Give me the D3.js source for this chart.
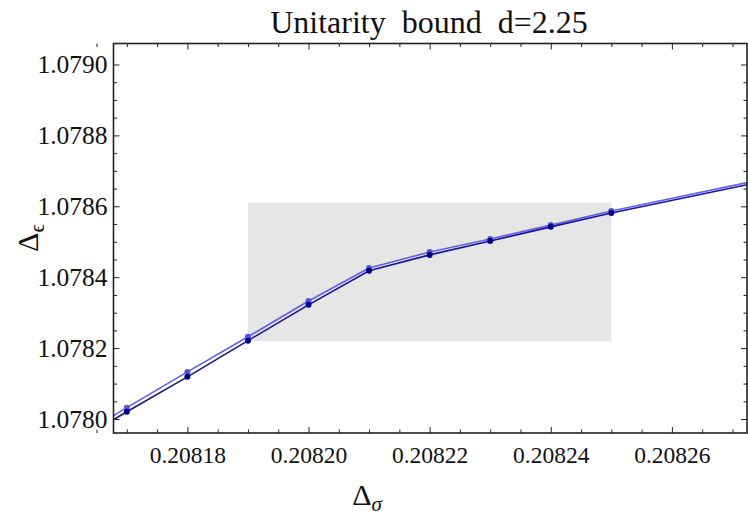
<!DOCTYPE html>
<html>
<head>
<meta charset="utf-8">
<script src="https://cdn.jsdelivr.net/npm/d3@7"></script>
<style>
  html, body { margin: 0; padding: 0; background: #fff; }
  svg { display: block; }
  text { font-family: "Liberation Serif", "DejaVu Serif", serif; fill: #111; }
</style>
</head>
<body>
<svg id="chart" width="748" height="516"></svg>
<script>
// Δσ values where the bound was computed (marked points)
const sigma = [0.20817, 0.20818, 0.20819, 0.20820, 0.20821, 0.20822, 0.20823, 0.20824, 0.20825];
// Δε bound, two runs
const epsLower = [1.0780205, 1.078119, 1.078221, 1.078322, 1.078418, 1.078463, 1.078502, 1.078542, 1.078581];
const epsUpper = [1.078032, 1.078133, 1.078232, 1.078333, 1.078426, 1.078471, 1.078508, 1.078547, 1.078587];
// line continuation past the marked range
const sigmaTail = [0.20816, 0.20828];
const epsLowerTail = [1.077919, 1.078688];
const epsUpperTail = [1.077930, 1.078694];
// shaded allowed region [σmin, σmax] × [εmin, εmax]
const regionSigma = [0.20819, 0.20825];
const regionEps = [1.07822, 1.07861];
// ticks
const xMajor = [0.20818, 0.20820, 0.20822, 0.20824, 0.20826];
const xMinor = [0.208165, 0.20817, 0.208175, 0.208185, 0.20819, 0.208195, 0.208205, 0.20821, 0.208215,
                0.208225, 0.20823, 0.208235, 0.208245, 0.20825, 0.208255, 0.208265, 0.20827];
const yMajor = [1.0780, 1.0782, 1.0784, 1.0786, 1.0788, 1.0790];
const yMinor = [1.07800 + 0.00005, 1.07800 + 0.00010, 1.07800 + 0.00015,
                1.07820 + 0.00005, 1.07820 + 0.00010, 1.07820 + 0.00015,
                1.07840 + 0.00005, 1.07840 + 0.00010, 1.07840 + 0.00015,
                1.07860 + 0.00005, 1.07860 + 0.00010, 1.07860 + 0.00015,
                1.07880 + 0.00005, 1.07880 + 0.00010, 1.07880 + 0.00015];

const svg = d3.select("#chart");
const L = 113.5, R = 747, T = 43.5, B = 433;
const x = d3.scaleLinear().domain([0.2081678, 0.2082724]).range([L, R]);
const y = d3.scaleLinear().domain([1.0779606, 1.0790592]).range([B, T]);

svg.append("defs").append("clipPath").attr("id", "plotclip")
  .append("rect").attr("x", L).attr("y", T).attr("width", R - L).attr("height", B - T);

const plot = svg.append("g").attr("clip-path", "url(#plotclip)");

// shaded region
plot.append("rect")
  .attr("x", x(regionSigma[0])).attr("y", y(regionEps[1]))
  .attr("width", x(regionSigma[1]) - x(regionSigma[0]))
  .attr("height", y(regionEps[0]) - y(regionEps[1]))
  .attr("fill", "#e6e6e6");

const line = d3.line().x(d => x(d[0])).y(d => y(d[1]));
function series(vals, tail) {
  const pts = sigma.map((s, i) => [s, vals[i]]);
  return [[sigmaTail[0], tail[0]], ...pts, [sigmaTail[1], tail[1]]];
}

const styles = [
  { vals: epsUpper, tail: epsUpperTail, stroke: "#5e5eff", fill: "#5050f0" },
  { vals: epsLower, tail: epsLowerTail, stroke: "#18187f", fill: "#000078" }
];
styles.forEach(s => {
  plot.append("path").datum(series(s.vals, s.tail))
    .attr("d", line).attr("fill", "none")
    .attr("stroke", s.stroke).attr("stroke-width", 1.6);
});
styles.forEach(s => {
  plot.selectAll(null).data(sigma.map((v, i) => [v, s.vals[i]])).enter()
    .append("circle")
    .attr("cx", d => x(d[0])).attr("cy", d => y(d[1])).attr("r", 3)
    .attr("fill", s.fill);
});

// frame axes with inward ticks
function styleAxis(size) {
  return g => {
    g.select(".domain").remove();
    g.selectAll(".tick line").attr("stroke", "#222").attr("stroke-width", 1);
    g.selectAll(".tick text").style("font-size", size + "px").attr("fill", "#111");
  };
}
const fmtX = d3.format(".5f"), fmtY = d3.format(".4f");

svg.append("g").attr("transform", `translate(0,${B})`)
  .call(d3.axisBottom(x).tickValues(xMajor).tickFormat(fmtX).tickSize(-6).tickPadding(13)).call(styleAxis(23.5));
svg.append("g").attr("transform", `translate(0,${B})`)
  .call(d3.axisBottom(x).tickValues(xMinor).tickFormat("").tickSize(-3.5)).call(styleAxis(23.5));
svg.append("g").attr("transform", `translate(0,${T})`)
  .call(d3.axisTop(x).tickValues(xMajor).tickFormat("").tickSize(-6)).call(styleAxis(23.5));
svg.append("g").attr("transform", `translate(0,${T})`)
  .call(d3.axisTop(x).tickValues(xMinor).tickFormat("").tickSize(-3.5)).call(styleAxis(23.5));

svg.append("g").attr("transform", `translate(${L},0)`)
  .call(d3.axisLeft(y).tickValues(yMajor).tickFormat(fmtY).tickSize(-6).tickPadding(6)).call(styleAxis(25.5));
svg.append("g").attr("transform", `translate(${L},0)`)
  .call(d3.axisLeft(y).tickValues(yMinor).tickFormat("").tickSize(-3.5)).call(styleAxis(25.5));
svg.append("g").attr("transform", `translate(${R},0)`)
  .call(d3.axisRight(y).tickValues(yMajor).tickFormat("").tickSize(-6)).call(styleAxis(25.5));
svg.append("g").attr("transform", `translate(${R},0)`)
  .call(d3.axisRight(y).tickValues(yMinor).tickFormat("").tickSize(-3.5)).call(styleAxis(25.5));

svg.append("rect").attr("x", L).attr("y", T).attr("width", R - L).attr("height", B - T)
  .attr("fill", "none").attr("stroke", "#222").attr("stroke-width", 1.6);

// title and axis labels
svg.append("text").attr("x", 429).attr("y", 33).attr("text-anchor", "middle")
  .style("font-size", "32px").style("word-spacing", "8px").text("Unitarity bound d=2.25");

const xl = svg.append("text").attr("x", 367).attr("y", 505).attr("text-anchor", "middle")
  .style("font-size", "30px");
xl.append("tspan").text("Δ");
xl.append("tspan").attr("dy", 6).style("font-size", "21px").style("font-style", "italic").text("σ");

const yl = svg.append("text").attr("transform", "translate(38,238) rotate(-90)")
  .attr("text-anchor", "middle").style("font-size", "30px");
yl.append("tspan").text("Δ");
yl.append("tspan").attr("dy", 6).style("font-size", "21px").text("ϵ");
</script>
</body>
</html>
